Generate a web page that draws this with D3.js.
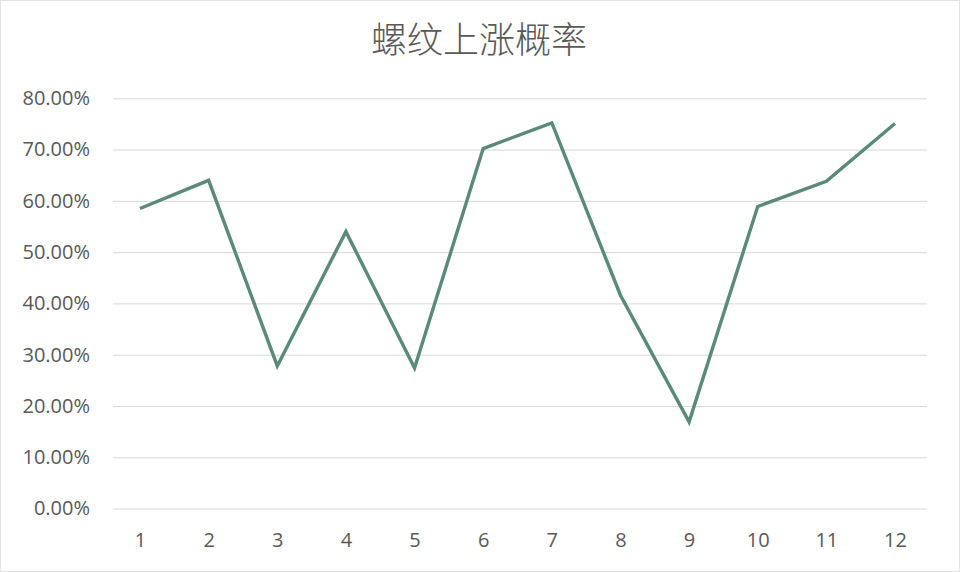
<!DOCTYPE html>
<html><head><meta charset="utf-8">
<script src="https://cdn.jsdelivr.net/npm/d3@7"></script>
<style>body{margin:0;background:#fff}svg{display:block}</style>
</head><body><svg id="c" width="960" height="572"></svg>
<script>
const title = "螺纹上涨概率";
const months = ["1","2","3","4","5","6","7","8","9","10","11","12"];
const rates = [58.5, 64.0, 27.8, 54.0, 27.4, 70.2, 75.2, 41.6, 16.9, 58.9, 63.8, 75.1];
const yTicks = [0,10,20,30,40,50,60,70,80];

const svg = d3.select("#c");
svg.append("rect").attr("x",0.5).attr("y",0.5).attr("width",959).attr("height",571)
  .attr("fill","#fff").attr("stroke","#e4e4e4");

const x = d3.scalePoint().domain(months).range([140, 895]);
const y = d3.scaleLinear().domain([0,80]).range([508.5, 98.3]);

const grid = svg.append("g").call(d3.axisLeft(y).tickValues(yTicks).tickSize(-814).tickFormat(d=>d.toFixed(2)+"%"))
  .attr("transform","translate(113,0)");
grid.select(".domain").remove();
grid.selectAll(".tick line").attr("stroke","#d9d9d9").attr("stroke-width",1);
grid.selectAll(".tick text").attr("x",-23).attr("fill","#595959")
  .style("font-family","'Open Sans','DejaVu Sans',sans-serif").style("font-size","20px");

const xa = svg.append("g").attr("transform","translate(0,508.5)").call(d3.axisBottom(x).tickSize(0));
xa.select(".domain").remove();
xa.selectAll(".tick text").attr("dy","0").attr("y",38).attr("fill","#595959")
  .style("font-family","'Open Sans','DejaVu Sans',sans-serif").style("font-size","20px");

const line = d3.line().x((d,i)=>x(months[i])).y(d=>y(d));
svg.append("path").datum(rates).attr("d",line).attr("fill","none")
  .attr("stroke","#5a8a79").attr("stroke-width",3.4).attr("stroke-linejoin","miter");

svg.append("text").attr("x",479).attr("y",53).attr("text-anchor","middle")
  .attr("fill","#595959").style("font-family","'Noto Sans CJK SC',sans-serif")
  .style("font-size","36px").style("font-weight","300").text(title);
</script></body></html>
